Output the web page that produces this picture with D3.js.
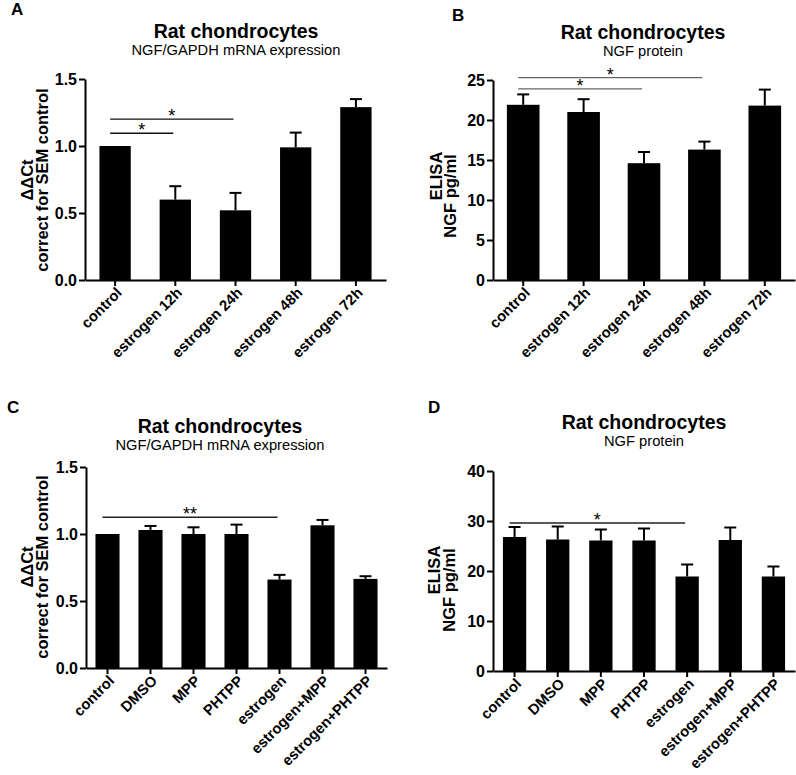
<!DOCTYPE html>
<html>
<head>
<meta charset="utf-8">
<script src="https://cdn.jsdelivr.net/npm/d3@7"></script>
<style>
  html, body { margin: 0; padding: 0; background: #fff; }
  svg { display: block; font-family: "Liberation Sans", Arial, sans-serif; }
</style>
</head>
<body>
<svg id="chart" width="796" height="775"></svg>
<script>
// ---------- DATA ----------
const timeCategories = ["control", "estrogen 12h", "estrogen 24h", "estrogen 48h", "estrogen 72h"];
const treatCategories = ["control", "DMSO", "MPP", "PHTPP", "estrogen", "estrogen+MPP", "estrogen+PHTPP"];

// Panel A: NGF/GAPDH mRNA (ΔΔCt)
const aMean = [1.00, 0.60, 0.52, 0.99, 1.29];
const aSEM  = [0.00, 0.10, 0.13, 0.11, 0.06];
const aTicks = [0.0, 0.5, 1.0, 1.5];
const aSig = [
  { from: 0, to: 2, level: 1.20, label: "*" },
  { from: 0, to: 1, level: 1.095, label: "*" }
];

// Panel B: NGF protein ELISA (pg/ml)
const bMean = [21.9, 21.0, 14.6, 16.3, 21.8];
const bSEM  = [1.3, 1.6, 1.4, 1.0, 2.0];
const bTicks = [0, 5, 10, 15, 20, 25];
const bSig = [
  { from: 0, to: 3, level: 25.3, label: "*" },
  { from: 0, to: 2, level: 23.9, label: "*" }
];

// Panel C: NGF/GAPDH mRNA (ΔΔCt)
const cMean = [1.00, 1.03, 1.00, 1.00, 0.66, 1.065, 0.665];
const cSEM  = [0.00, 0.03, 0.05, 0.07, 0.035, 0.04, 0.02];
const cTicks = [0.0, 0.5, 1.0, 1.5];
const cSig = [
  { from: 0, to: 4, level: 1.125, label: "**" }
];

// Panel D: NGF protein ELISA (pg/ml)
const dMean = [26.8, 26.3, 26.1, 26.1, 18.9, 26.2, 18.9];
const dSEM  = [2.0, 2.6, 2.2, 2.4, 2.4, 2.5, 2.0];
const dTicks = [0, 10, 20, 30, 40];
const dSig = [
  { from: 0, to: 4, level: 29.6, label: "*" }
];

// ---------- DRAW ----------
const svg = d3.select("#chart");

function panel(opt) {
  const g = svg.append("g");
  const x = d3.scaleBand().domain(opt.cats).range([opt.x0, opt.x1])
    .paddingInner(opt.pad).paddingOuter(opt.pad / 2);
  const y = d3.scaleLinear().domain([0, opt.ymax]).range([opt.yb, opt.yt]);

  // panel letter
  g.append("text").attr("x", opt.letter[0]).attr("y", opt.letter[1])
    .attr("font-size", 17).attr("font-weight", "bold").text(opt.letterText);

  // titles
  g.append("text").attr("x", opt.titleX).attr("y", opt.titleY)
    .attr("text-anchor", "middle").attr("font-size", 19.5).attr("font-weight", "bold")
    .text("Rat chondrocytes");
  g.append("text").attr("x", opt.titleX).attr("y", opt.titleY + 17)
    .attr("text-anchor", "middle").attr("font-size", 14.7)
    .text(opt.subtitle);

  // y label
  opt.ylab.forEach((t, i) => {
    g.append("text")
      .attr("transform", `translate(${opt.ylabX[i]},${opt.ylabY[i]}) rotate(-90)`)
      .attr("text-anchor", "middle").attr("font-size", 16.5).attr("font-weight", "bold")
      .text(t);
  });

  // bars
  g.selectAll("rect.bar").data(opt.mean).join("rect").attr("class", "bar")
    .attr("x", (d, i) => x(opt.cats[i]))
    .attr("width", x.bandwidth())
    .attr("y", d => y(d))
    .attr("height", d => y(0) - y(d))
    .attr("fill", "#000");

  // error bars (upper only)
  const capW = 12;
  opt.mean.forEach((m, i) => {
    const e = opt.sem[i];
    if (e <= 0) return;
    const cx = x(opt.cats[i]) + x.bandwidth() / 2;
    g.append("line").attr("x1", cx).attr("x2", cx).attr("y1", y(m)).attr("y2", y(m + e))
      .attr("stroke", "#000").attr("stroke-width", 2);
    g.append("line").attr("x1", cx - capW / 2).attr("x2", cx + capW / 2)
      .attr("y1", y(m + e)).attr("y2", y(m + e))
      .attr("stroke", "#000").attr("stroke-width", 2);
  });

  // significance lines
  opt.sig.forEach(s => {
    const xa = x(opt.cats[s.from]) + x.bandwidth() / 2 - 5;
    const xb = x(opt.cats[s.to]) + x.bandwidth() / 2 - 2;
    g.append("line").attr("x1", xa).attr("x2", xb).attr("y1", y(s.level)).attr("y2", y(s.level))
      .attr("stroke", opt.sigColor).attr("stroke-width", 1.3);
    g.append("text").attr("x", (xa + xb) / 2).attr("y", y(s.level) + 3)
      .attr("text-anchor", "middle").attr("font-size", 18).text(s.label);
  });

  // y axis
  const ya = g.append("g").attr("transform", `translate(${opt.x0},0)`)
    .call(d3.axisLeft(y).tickValues(opt.ticks).tickFormat(opt.fmt)
      .tickSize(6).tickSizeOuter(0).tickPadding(2));
  ya.select(".domain").attr("stroke-width", 2);
  ya.selectAll(".tick line").attr("stroke-width", 2);
  ya.selectAll(".tick text").attr("font-size", 16).attr("font-weight", "bold")
    .attr("font-family", "Liberation Sans, Arial, sans-serif").attr("fill", "#000");

  // x axis
  const xa = g.append("g").attr("transform", `translate(0,${opt.yb})`)
    .call(d3.axisBottom(x).tickSize(6).tickSizeOuter(0));
  xa.select(".domain").attr("stroke-width", 2);
  xa.selectAll(".tick line").attr("stroke-width", 2);
  xa.selectAll(".tick text")
    .attr("font-size", 14.8).attr("font-weight", "bold")
    .attr("font-family", "Liberation Sans, Arial, sans-serif").attr("fill", "#000")
    .attr("text-anchor", "end").attr("y", 0).attr("dy", "0.35em")
    .attr("transform", "translate(4,10) rotate(-45)");
}

const f1 = d3.format(".1f");
const f0 = d3.format("d");

panel({ cats: timeCategories, mean: aMean, sem: aSEM, ticks: aTicks, sig: aSig, fmt: f1,
  ymax: 1.5, x0: 85, x1: 386, yb: 280, yt: 79, pad: 0.48,
  letter: [11, 15], letterText: "A", titleX: 236, titleY: 38,
  subtitle: "NGF/GAPDH mRNA expression",
  ylab: ["\u0394\u0394Ct", "correct for SEM control"], ylabX: [33, 48], ylabY: [180, 180],
  sigColor: "#111" });

panel({ cats: timeCategories, mean: bMean, sem: bSEM, ticks: bTicks, sig: bSig, fmt: f0,
  ymax: 25, x0: 493, x1: 795, yb: 280, yt: 80, pad: 0.46,
  letter: [452, 21], letterText: "B", titleX: 643, titleY: 39,
  subtitle: "NGF protein",
  ylab: ["ELISA", "NGF pg/ml"], ylabX: [442, 456], ylabY: [176, 196],
  sigColor: "#666" });

panel({ cats: treatCategories, mean: cMean, sem: cSEM, ticks: cTicks, sig: cSig, fmt: f1,
  ymax: 1.5, x0: 86, x1: 387, yb: 668, yt: 467, pad: 0.44,
  letter: [7, 413], letterText: "C", titleX: 220, titleY: 433,
  subtitle: "NGF/GAPDH mRNA expression",
  ylab: ["\u0394\u0394Ct", "correct for SEM control"], ylabX: [33, 48], ylabY: [567, 567],
  sigColor: "#222" });

panel({ cats: treatCategories, mean: dMean, sem: dSEM, ticks: dTicks, sig: dSig, fmt: f0,
  ymax: 40, x0: 493, x1: 795, yb: 671, yt: 471, pad: 0.46,
  letter: [428, 413], letterText: "D", titleX: 644, titleY: 429,
  subtitle: "NGF protein",
  ylab: ["ELISA", "NGF pg/ml"], ylabX: [440, 455], ylabY: [570, 590],
  sigColor: "#222" });
</script>
</body>
</html>
